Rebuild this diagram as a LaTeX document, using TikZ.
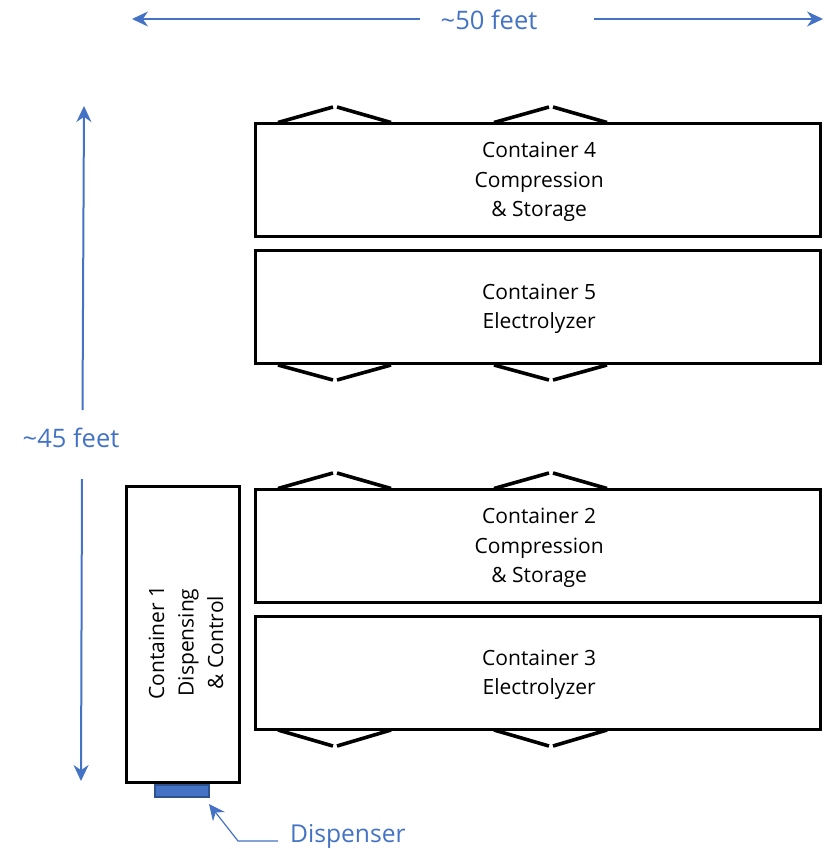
\documentclass[tikz,border=0pt]{standalone}
\usepackage{fontspec}
\setmainfont{Open Sans}
\usetikzlibrary{arrows.meta}
\definecolor{dimblue}{HTML}{4472C4}
\definecolor{dispedge}{HTML}{2F528F}
\tikzset{
  box/.style={draw=black,line width=3.6pt,fill=white,minimum width=565pt,minimum height=113pt,inner sep=0pt,outer sep=0pt,anchor=north west},
  boxtext/.style={align=center,inner sep=0pt,font=\fontsize{21}{29.5}\selectfont,xshift=1.2pt,yshift=-2pt},
  vbox/.style={draw=black,line width=3.6pt,fill=white,minimum width=113pt,minimum height=296pt,inner sep=0pt,outer sep=0pt,anchor=north west},
  flap/.style={draw=black,line width=3.6pt},
  dimtext/.style={text=dimblue,font=\fontsize{25.5}{28}\selectfont,inner sep=0pt},
  dimarrow/.style={draw=dimblue,line width=2pt,-{Stealth[length=16pt,width=15pt]}}
}
\begin{document}
\begin{tikzpicture}[x=1pt,y=-1pt]
\useasboundingbox (0,0) rectangle (823,849);
\node[box] (c4) at (255.5,123.5) {};
\node[boxtext] (c4t) at (c4.center) {Container 4\\Compression\\\& Storage};
\node[box] (c5) at (255.5,250.5) {};
\node[boxtext] (c5t) at (c5.center) {Container 5\\Electrolyzer};
\node[box] (c2) at (255.5,489.5) {};
\node[boxtext] (c2t) at (c2.center) {Container 2\\Compression\\\& Storage};
\node[box] (c3) at (255.5,616.5) {};
\node[boxtext] (c3t) at (c3.center) {Container 3\\Electrolyzer};
\node[vbox] (c1) at (126.5,486.5) {};
\node[rotate=90,align=center,inner sep=0pt,font=\fontsize{21}{29.5}\selectfont,xshift=-8pt,yshift=-3pt] (c1t) at (c1.center) {Container 1\\Dispensing\\\& Control};
\node[draw=dispedge,fill=dimblue,line width=1.5pt,minimum width=54pt,minimum height=12pt,inner sep=0pt,anchor=north west] (disp) at (154,784) {};
% flaps
\foreach \xa/\xb/\xc/\xd in {278/333/337/391,494/549/553/607}{
  \draw[flap] (\xa,122.5) -- (\xb,107);
  \draw[flap] (\xc,107) -- (\xd,122.5);
  \draw[flap] (\xa,365) -- (\xb,380);
  \draw[flap] (\xc,380) -- (\xd,365);
  \draw[flap] (\xa,488.5) -- (\xb,473);
  \draw[flap] (\xc,473) -- (\xd,488.5);
  \draw[flap] (\xa,730) -- (\xb,746);
  \draw[flap] (\xc,746) -- (\xd,730);
}
% dimensions
\node[dimtext] (w) at (489,20) {\textasciitilde50 feet};
\coordinate (wl) at (132,19);
\coordinate (wr) at (823,19);
\draw[dimarrow] (420,19) -- (wl);
\draw[dimarrow] (594,19) -- (wr);
\node[dimtext] (h) at (71,438) {\textasciitilde45 feet};
\coordinate (ht) at (84,106);
\coordinate (hb) at (81,781);
\draw[dimarrow] (82.5,410) -- (ht);
\draw[dimarrow] (82,479) -- (hb);
% dispenser label
\node[dimtext,anchor=west,font=\fontsize{24.6}{28}\selectfont] (dl) at (290,836.5) {Dispenser};
\coordinate (de) at (238,841);
\draw[draw=dimblue,line width=1.2pt,-{Stealth[length=16pt,width=15pt]}] (278,841) -- (de) -- (209,804);
\end{tikzpicture}
\end{document}
